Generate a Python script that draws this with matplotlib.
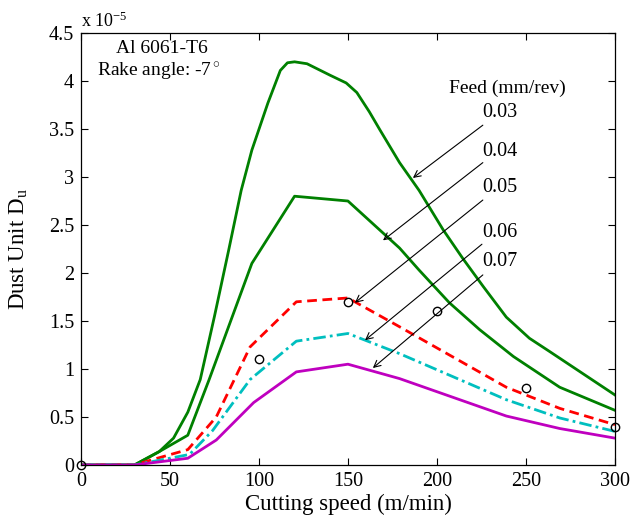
import matplotlib
matplotlib.use("Agg")
import matplotlib.pyplot as plt

plt.rcParams['font.family'] = ['Liberation Serif', 'DejaVu Serif']
plt.rcParams['mathtext.fontset'] = 'custom'
plt.rcParams['mathtext.rm'] = 'Liberation Serif'
plt.rcParams['mathtext.it'] = 'Liberation Serif'

# values in units of 1e-5
x003 = [0, 30, 44, 52, 60, 67, 75, 83, 90, 96, 105, 112, 116, 120, 127, 140, 149, 155, 162, 168, 179, 190, 203.5, 214.6, 226, 239, 252, 263.5, 300]
y003 = [0, 0, 0.14, 0.28, 0.55, 0.89, 1.55, 2.24, 2.86, 3.28, 3.77, 4.11, 4.19, 4.20, 4.18, 4.06, 3.98, 3.88, 3.68, 3.49, 3.15, 2.86, 2.45, 2.15, 1.86, 1.54, 1.32, 1.18, 0.73]
x004 = [0, 30, 44, 60, 72, 96, 120, 150, 179, 190, 198, 207, 224, 243, 269, 300]
y004 = [0, 0, 0.14, 0.31, 0.89, 2.10, 2.80, 2.75, 2.26, 2.03, 1.87, 1.69, 1.41, 1.13, 0.81, 0.57]
x005 = [0, 30, 39, 60, 76, 95, 121, 150, 179, 239, 269, 300]
y005 = [0, 0, 0.05, 0.16, 0.50, 1.23, 1.70, 1.74, 1.44, 0.81, 0.59, 0.42]
x006 = [0, 30, 61, 74, 95, 121, 150, 179, 239, 269, 300]
y006 = [0, 0, 0.11, 0.36, 0.89, 1.29, 1.37, 1.16, 0.68, 0.49, 0.35]
x007 = [0, 30, 60, 76, 97, 121, 150, 179, 239, 269, 300]
y007 = [0, 0, 0.07, 0.26, 0.65, 0.97, 1.05, 0.90, 0.51, 0.38, 0.28]
x_exp = [0, 100, 150, 200, 250, 300]
y_exp = [0, 1.1, 1.7, 1.6, 0.8, 0.4]

feed_labels = ['0.03', '0.04', '0.05', '0.06', '0.07']
label_y = [3.67, 3.27, 2.89, 2.42, 2.12]
arrow_tail = [(225.8, 3.54), (225.8, 3.15), (225.8, 2.76), (225.3, 2.30), (225.8, 1.98)]
arrow_head = [(186.5, 2.99), (169.7, 2.34), (153.9, 1.69), (159.6, 1.30), (164.0, 1.01)]

fig = plt.figure(figsize=(6.3, 5.25), dpi=100)
ax = fig.add_axes([0.1286, 0.1143, 0.8474, 0.8228])

green = '#008000'
lw = 2.0
ax.plot(x003, y003, color=green, lw=lw)
ax.plot(x004, y004, color=green, lw=lw)
ax.plot(x005, y005, color='#ff0000', lw=lw, dashes=(3.5, 2.0))
ax.plot(x006, y006, color='#00bfbf', lw=lw, dashes=(4.5, 1.5, 1.0, 1.5))
ax.plot(x007, y007, color='#bf00bf', lw=lw)
ax.plot(x_exp, y_exp, linestyle='none', marker='o', markersize=6,
        markerfacecolor='none', markeredgecolor='black', markeredgewidth=1.0,
        clip_on=False, zorder=5)

for lab, ly, (tx, ty), (hx, hy) in zip(feed_labels, label_y, arrow_tail, arrow_head):
    ax.text(225.5, ly, lab, fontsize=14.5, ha='left', va='center')
    ax.annotate('', xy=(hx, hy), xytext=(tx, ty),
                arrowprops=dict(arrowstyle='->', color='black', lw=0.8,
                                shrinkA=0, shrinkB=0, mutation_scale=12))

ax.text(239.6, 3.92, 'Feed (mm/rev)', fontsize=14, ha='center', va='center')
ax.text(45.3, 4.34, 'Al 6061-T6', fontsize=14, ha='center', va='center')
ax.text(43.8, 4.10, r'Rake angle: -7$^\circ$', fontsize=14, ha='center', va='center')

ax.set_xlim(0, 300)
ax.set_ylim(0, 4.5)
ax.set_xticks([0, 50, 100, 150, 200, 250, 300])
ax.set_yticks([0, 0.5, 1, 1.5, 2, 2.5, 3, 3.5, 4, 4.5])
ax.set_yticklabels(['0', '0.5', '1', '1.5', '2', '2.5', '3', '3.5', '4', '4.5'])
ax.tick_params(direction='in', top=True, right=True, labelsize=14.5, length=5, width=0.8, pad=5)
for s in ax.spines.values():
    s.set_linewidth(0.9)

ax.set_xlabel('Cutting speed (m/min)', fontsize=16.5, labelpad=2)
ax.set_ylabel(r'Dust Unit D$_\mathregular{u}$', fontsize=16.5)
ax.yaxis.set_label_coords(-0.095, 0.5)
ax.text(0.0, 1.005, r'x 10$^{\mathregular{-5}}$', transform=ax.transAxes,
        fontsize=13, ha='left', va='bottom')

fig.savefig('out.png', dpi=100)
